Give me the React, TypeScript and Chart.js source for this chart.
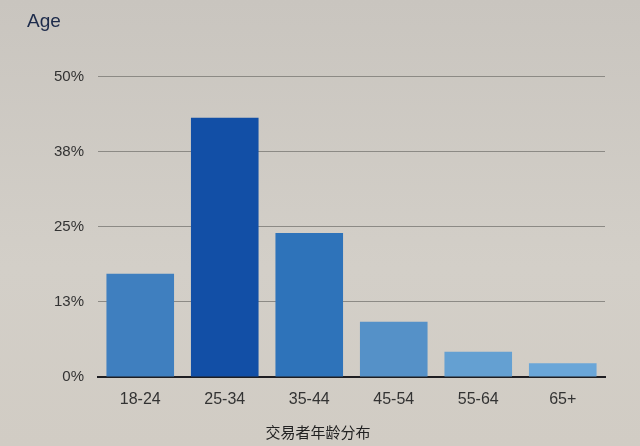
import React, { useEffect, useRef } from "react";
import { Chart, registerables } from "chart.js";

Chart.register(...registerables);

const categories = ["18-24", "25-34", "35-44", "45-54", "55-64", "65+"];
const shares = [17.2, 43.2, 24.0, 9.2, 4.2, 2.3];
const barColors = ["#3f7fbf", "#124fa6", "#2e73ba", "#5591c8", "#64a0d2", "#6aa6d8"];
const yTicks = [0, 12.5, 25, 37.5, 50];
const titleText = "Age";
const xTitle = "交易者年龄分布";

// The printed axis title sits a little left of the plot centre.
const xTitlePlugin = {
  id: "xtitle",
  afterDraw(chart: any) {
    const { ctx, chartArea } = chart;
    ctx.save();
    ctx.font = "15px 'Noto Sans CJK SC'";
    ctx.fillStyle = "#222";
    ctx.textAlign = "center";
    ctx.textBaseline = "middle";
    ctx.fillText(xTitle, chartArea.left + 0.434 * (chartArea.right - chartArea.left), chartArea.bottom + 55);
    ctx.restore();
  },
};

export default function App() {
  const ref = useRef<HTMLCanvasElement>(null);
  useEffect(() => {
    if (!ref.current) return;
    const chart = new Chart(ref.current, {
      type: "bar",
      data: {
        labels: categories,
        datasets: [
          {
            data: shares,
            backgroundColor: barColors,
            barPercentage: 0.8,
            categoryPercentage: 1,
          },
        ],
      },
      plugins: [xTitlePlugin],
      options: {
        animation: false,
        responsive: false,
        layout: { padding: { left: 27, right: 35, top: 0, bottom: 0 } },
        plugins: {
          legend: { display: false },
          tooltip: { enabled: false },
          title: {
            display: true,
            text: titleText,
            align: "start",
            color: "#1c2a4a",
            font: { family: "Liberation Sans, Arial, sans-serif", size: 19, weight: "normal" },
            padding: { top: 10, bottom: 44 },
          },
        },
        scales: {
          x: {
            grid: { display: false, drawTicks: false },
            border: { display: true, color: "#1e1e22", width: 2 },
            ticks: {
              color: "#333",
              padding: 13,
              font: { family: "Liberation Sans, Arial, sans-serif", size: 16 },
            },
            afterFit: (s: any) => {
              s.height = 69;
            },
          },
          y: {
            min: 0,
            max: 50,
            afterBuildTicks: (s: any) => {
              s.ticks = yTicks.map((v) => ({ value: v }));
            },
            grid: { color: "#8c8a85", lineWidth: 1, drawTicks: false },
            border: { display: false },
            ticks: {
              color: "#333",
              padding: 14,
              font: { family: "Liberation Sans, Arial, sans-serif", size: 15 },
              callback: (v: any) => Math.round(Number(v)) + "%",
            },
            afterFit: (s: any) => {
              s.width = 71;
            },
          },
        },
      },
    });
    return () => chart.destroy();
  }, []);
  return (
    <div
      style={{
        position: "fixed",
        left: 0,
        top: 0,
        width: 640,
        height: 446,
        background: "linear-gradient(180deg, #c9c5bf 0%, #d3cfc8 60%, #d1ccc4 100%)",
      }}
    >
      <canvas ref={ref} width={640} height={446} style={{ display: "block" }} />
    </div>
  );
}
